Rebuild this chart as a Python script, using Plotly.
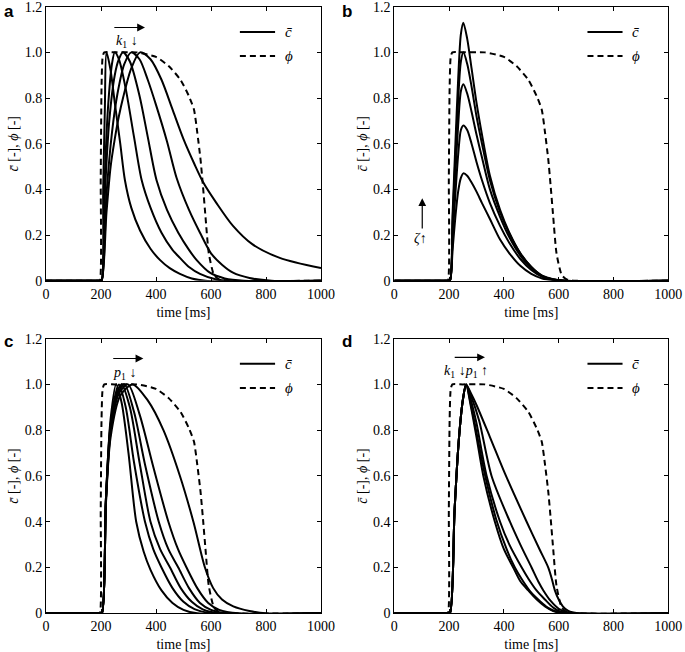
import plotly.graph_objects as go

# ---------------- data ----------------
PHI_T = [0, 191, 196, 199, 202, 206, 212, 250, 330, 400, 446, 489, 519, 538, 550, 562, 571, 580, 592, 611, 629, 660, 1000]
PHI_C = [0, 0, 0, 0.45, 0.85, 0.98, 1.0, 1.0, 1.0, 0.98, 0.94, 0.88, 0.81, 0.75, 0.65, 0.53, 0.41, 0.28, 0.12, 0.025, 0.006, 0, 0]

# panel a (k1 varied)
A1_T = [0, 195, 202, 208, 214, 220, 235, 250, 270, 287, 310, 342, 380, 415, 450, 487, 530, 580, 1000]
A1_C = [0, 0, 0, 0.40, 0.75, 1.00, 0.92, 0.78, 0.60, 0.44, 0.32, 0.22, 0.14, 0.09, 0.055, 0.03, 0.01, 0, 0]
A2_T = [0, 195, 202, 212, 225, 240, 250, 265, 290, 320, 348, 380, 420, 460, 487, 520, 560, 620, 680, 1000]
A2_C = [0, 0, 0, 0.40, 0.75, 0.95, 1.00, 0.97, 0.84, 0.63, 0.44, 0.32, 0.21, 0.135, 0.10, 0.06, 0.03, 0.005, 0, 0]
A3_T = [0, 195, 202, 215, 230, 250, 265, 280, 305, 340, 370, 402, 440, 481, 520, 548, 596, 650, 720, 1000]
A3_C = [0, 0, 0, 0.40, 0.70, 0.90, 0.97, 1.00, 0.96, 0.81, 0.63, 0.44, 0.31, 0.21, 0.135, 0.09, 0.035, 0.01, 0, 0]
A4_T = [0, 195, 202, 220, 240, 260, 285, 310, 340, 370, 400, 440, 475, 520, 560, 600, 640, 680, 740, 820, 1000]
A4_C = [0, 0, 0, 0.38, 0.65, 0.82, 0.95, 1.00, 0.97, 0.88, 0.77, 0.61, 0.45, 0.31, 0.21, 0.12, 0.07, 0.035, 0.012, 0, 0]
A5_T = [0, 195, 202, 220, 235, 250, 265, 280, 310, 342, 380, 420, 460, 500, 540, 572, 620, 680, 750, 850, 1000]
A5_C = [0, 0, 0, 0.30, 0.50, 0.62, 0.72, 0.80, 0.93, 1.00, 0.97, 0.88, 0.75, 0.62, 0.51, 0.43, 0.34, 0.24, 0.16, 0.10, 0.055]

# panel b (zeta varied)
B_T = [0, 196, 203, 213, 223, 233, 243, 252, 266, 282, 300, 320, 349, 386, 420, 460, 500, 540, 580, 620, 1000]
B1_C = [0, 0, 0, 0.30, 0.60, 0.88, 1.08, 1.13, 1.06, 0.93, 0.78, 0.64, 0.46, 0.31, 0.21, 0.12, 0.06, 0.02, 0.005, 0, 0]
B2_C = [0, 0, 0, 0.27, 0.54, 0.79, 0.96, 1.00, 0.95, 0.85, 0.72, 0.60, 0.44, 0.30, 0.205, 0.12, 0.06, 0.022, 0.006, 0, 0]
B3_C = [0, 0, 0, 0.24, 0.47, 0.68, 0.83, 0.86, 0.82, 0.74, 0.64, 0.54, 0.40, 0.28, 0.19, 0.11, 0.055, 0.02, 0.005, 0, 0]
B4_C = [0, 0, 0, 0.19, 0.38, 0.55, 0.66, 0.68, 0.66, 0.60, 0.52, 0.44, 0.34, 0.24, 0.165, 0.095, 0.047, 0.017, 0.004, 0, 0]
B5_C = [0, 0, 0, 0.14, 0.28, 0.39, 0.45, 0.47, 0.46, 0.43, 0.39, 0.34, 0.27, 0.18, 0.12, 0.065, 0.03, 0.01, 0.003, 0, 0]

# panel c (p1 varied)
C1_T = [0, 196, 203, 218, 235, 255, 275, 300, 328, 355, 380, 420, 460, 500, 550, 1000]
C1_C = [0, 0, 0, 0.50, 0.85, 1.00, 0.92, 0.70, 0.40, 0.27, 0.19, 0.10, 0.045, 0.015, 0, 0]
C2_T = [0, 196, 203, 218, 235, 265, 290, 320, 360, 390, 420, 460, 500, 540, 600, 1000]
C2_C = [0, 0, 0, 0.50, 0.83, 1.00, 0.90, 0.66, 0.40, 0.28, 0.20, 0.11, 0.05, 0.018, 0, 0]
C3_T = [0, 196, 203, 218, 235, 260, 275, 305, 340, 380, 415, 451, 490, 530, 570, 630, 1000]
C3_C = [0, 0, 0, 0.50, 0.82, 0.97, 1.00, 0.90, 0.66, 0.40, 0.28, 0.20, 0.11, 0.05, 0.017, 0, 0]
C4_T = [0, 196, 203, 218, 235, 260, 285, 320, 360, 410, 445, 481, 520, 560, 600, 660, 1000]
C4_C = [0, 0, 0, 0.50, 0.80, 0.96, 1.00, 0.88, 0.65, 0.40, 0.28, 0.20, 0.11, 0.045, 0.015, 0, 0]
C5_T = [0, 196, 203, 218, 235, 265, 298, 340, 390, 445, 480, 511, 550, 590, 630, 700, 1000]
C5_C = [0, 0, 0, 0.49, 0.79, 0.96, 1.00, 0.87, 0.64, 0.40, 0.28, 0.20, 0.11, 0.045, 0.015, 0, 0]
C6_T = [0, 196, 203, 218, 235, 270, 315, 370, 427, 487, 536, 578, 608, 640, 681, 740, 800, 1000]
C6_C = [0, 0, 0, 0.48, 0.77, 0.95, 1.00, 0.93, 0.80, 0.60, 0.40, 0.20, 0.11, 0.06, 0.03, 0.01, 0, 0]

# panel d (k1 and p1 varied)
D1_T = [0, 196, 203, 220, 235, 250, 262, 280, 300, 325, 367, 400, 434, 460, 489, 520, 550, 580, 620, 1000]
D1_C = [0, 0, 0, 0.45, 0.75, 0.93, 1.00, 0.90, 0.77, 0.60, 0.40, 0.28, 0.20, 0.14, 0.10, 0.06, 0.03, 0.01, 0, 0]
D2_T = [0, 196, 203, 220, 235, 250, 262, 280, 300, 330, 372, 410, 440, 470, 500, 530, 560, 590, 630, 1000]
D2_C = [0, 0, 0, 0.45, 0.75, 0.93, 1.00, 0.91, 0.79, 0.61, 0.41, 0.28, 0.20, 0.14, 0.09, 0.055, 0.025, 0.008, 0, 0]
D3_T = [0, 196, 203, 220, 235, 250, 262, 280, 300, 337, 386, 420, 465, 490, 519, 550, 580, 605, 640, 1000]
D3_C = [0, 0, 0, 0.45, 0.75, 0.93, 1.00, 0.93, 0.83, 0.60, 0.40, 0.30, 0.20, 0.15, 0.10, 0.06, 0.025, 0.008, 0, 0]
D4_T = [0, 196, 203, 220, 235, 250, 262, 280, 310, 355, 422, 460, 501, 525, 544, 570, 600, 630, 660, 1000]
D4_C = [0, 0, 0, 0.45, 0.75, 0.93, 1.00, 0.95, 0.84, 0.60, 0.40, 0.30, 0.20, 0.14, 0.10, 0.055, 0.02, 0.005, 0, 0]
D5_T = [0, 196, 203, 220, 235, 250, 262, 280, 300, 349, 404, 483, 530, 562, 575, 586, 600, 615, 635, 670, 1000]
D5_C = [0, 0, 0, 0.45, 0.75, 0.93, 1.00, 0.96, 0.91, 0.77, 0.61, 0.40, 0.28, 0.20, 0.15, 0.10, 0.06, 0.03, 0.01, 0, 0]

X_TICKS = [0, 200, 400, 600, 800, 1000]
Y_TICKS = [0, 0.2, 0.4, 0.6, 0.8, 1.0, 1.2]
Y_TICK_TEXT = ["0", "0.2", "0.4", "0.6", "0.8", "1.0", "1.2"]

PANELS = {
    "a": [(A1_T, A1_C), (A2_T, A2_C), (A3_T, A3_C), (A4_T, A4_C), (A5_T, A5_C)],
    "b": [(B_T, B1_C), (B_T, B2_C), (B_T, B3_C), (B_T, B4_C), (B_T, B5_C)],
    "c": [(C1_T, C1_C), (C2_T, C2_C), (C3_T, C3_C), (C4_T, C4_C), (C5_T, C5_C), (C6_T, C6_C)],
    "d": [(D1_T, D1_C), (D2_T, D2_C), (D3_T, D3_C), (D4_T, D4_C), (D5_T, D5_C)],
}

# ---------------- styling / layout ----------------
W, H = 685, 652
SERIF = "Liberation Serif"
LW = 2.0
DASH = "6px,4px"

XDOM = {"a": [46 / W, 321 / W], "b": [394.3 / W, 668.3 / W], "c": [46 / W, 321 / W], "d": [394.3 / W, 668.3 / W]}
YDOM = {"a": [1 - 280.7 / H, 1 - 6.7 / H], "b": [1 - 280.7 / H, 1 - 6.7 / H],
        "c": [1 - 613.3 / H, 1 - 338.6 / H], "d": [1 - 613.3 / H, 1 - 338.6 / H]}
IDX = {"a": "", "b": "2", "c": "3", "d": "4"}

fig = go.Figure()
for key, curves in PANELS.items():
    i = IDX[key]
    for t, c in curves:
        fig.add_trace(go.Scatter(x=t, y=c, mode="lines", xaxis="x" + i, yaxis="y" + i,
                                 line=dict(color="black", width=LW, shape="spline", smoothing=0.8),
                                 showlegend=False, hoverinfo="skip"))
    fig.add_trace(go.Scatter(x=PHI_T, y=PHI_C, mode="lines", xaxis="x" + i, yaxis="y" + i,
                             line=dict(color="black", width=LW, dash=DASH, shape="spline", smoothing=0.6),
                             showlegend=False, hoverinfo="skip"))

layout = dict(width=W, height=H, margin=dict(l=0, r=0, t=0, b=0),
              paper_bgcolor="white", plot_bgcolor="white", showlegend=False,
              font=dict(family=SERIF, size=14, color="black"))

axis_common = dict(showline=True, linecolor="black", linewidth=1, mirror="ticks",
                   ticks="inside", ticklen=4, tickcolor="black", tickwidth=1,
                   showgrid=False, zeroline=False, automargin=False, ticklabeloverflow="allow",
                   tickfont=dict(family=SERIF, size=14, color="black"))

for key in PANELS:
    i = IDX[key]
    layout["xaxis" + i] = dict(axis_common, domain=XDOM[key], anchor="y" + i, range=[0, 1000],
                               tickvals=X_TICKS, ticktext=[str(v) for v in X_TICKS],
                               title=dict(text="time [ms]", font=dict(family=SERIF, size=14), standoff=6))
    layout["yaxis" + i] = dict(axis_common, domain=YDOM[key], anchor="x" + i, range=[0, 1.2],
                               tickvals=Y_TICKS, ticktext=Y_TICK_TEXT,
                               title=dict(text="<i>c\u0304</i> [-], <i>\u03d5</i> [-]",
                                          font=dict(family=SERIF, size=14), standoff=2))

shapes = []
annotations = []
for key in PANELS:
    i = IDX[key]
    xd, yd = "x" + i + " domain", "y" + i + " domain"
    shapes.append(dict(type="line", xref=xd, yref=yd, x0=0.705, x1=0.833, y0=0.908, y1=0.908,
                       line=dict(color="black", width=LW)))
    shapes.append(dict(type="line", xref=xd, yref=yd, x0=0.705, x1=0.833, y0=0.820, y1=0.820,
                       line=dict(color="black", width=LW, dash=DASH)))
    annotations.append(dict(xref=xd, yref=yd, x=0.86, y=0.908, xanchor="left", yanchor="middle",
                            text="<i>c\u0304</i>", showarrow=False, font=dict(family=SERIF, size=15)))
    annotations.append(dict(xref=xd, yref=yd, x=0.86, y=0.820, xanchor="left", yanchor="middle",
                            text="<i>\u03d5</i>", showarrow=False, font=dict(family=SERIF, size=15)))

# panel letters
for key, (px, py) in {"a": (2, 0), "b": (340, 0), "c": (2, 330), "d": (340, 330)}.items():
    annotations.append(dict(xref="paper", yref="paper", x=px / W, y=1 - py / H, xanchor="left", yanchor="top",
                            text="<b>%s</b>" % key, showarrow=False,
                            font=dict(family="Liberation Sans", size=17, color="black")))

def arrow(i, x, y, ax, ay, size=1.3):
    return dict(xref="x" + i, yref="y" + i, axref="x" + i, ayref="y" + i, x=x, y=y, ax=ax, ay=ay,
                text="", showarrow=True, arrowhead=2, arrowsize=size, arrowwidth=1.2,
                arrowcolor="black", standoff=0, startstandoff=0)

def label(i, x, y, text, size=14):
    return dict(xref="x" + i, yref="y" + i, x=x, y=y, text=text, showarrow=False,
                xanchor="center", yanchor="middle", font=dict(family=SERIF, size=size, color="black"))

# a
annotations.append(arrow("", 360, 1.109, 243, 1.109))
annotations.append(label("", 296, 1.046, "<i>k</i><sub>1</sub> \u2193"))
# b
annotations.append(arrow("2", 102, 0.361, 102, 0.222))
annotations.append(label("2", 94, 0.183, "<i>\u03b6</i>\u2191"))
# c
annotations.append(arrow("3", 354, 1.113, 239, 1.113))
annotations.append(label("3", 287, 1.048, "<i>p</i><sub>1</sub> \u2193"))
# d
annotations.append(arrow("4", 331, 1.118, 215, 1.118))
annotations.append(label("4", 262, 1.056, "<i>k</i><sub>1</sub> \u2193<i>p</i><sub>1</sub> \u2191"))

layout["shapes"] = shapes
layout["annotations"] = annotations
fig.update_layout(layout)
fig.write_html("out.html", config={"displayModeBar": False},
               post_script="document.body.style.margin='0px';")
